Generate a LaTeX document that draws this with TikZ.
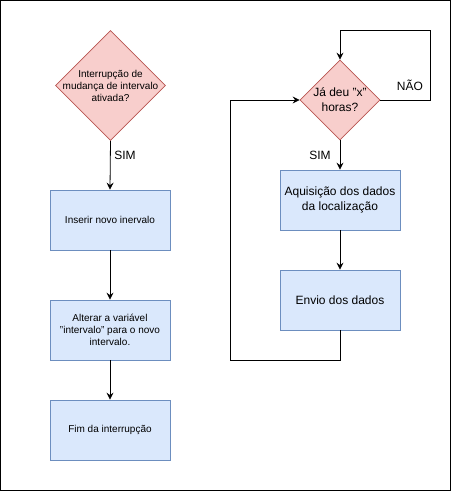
\documentclass[tikz,border=0pt]{standalone}
\usepackage{fontspec}
\setmainfont{Liberation Sans}
\usetikzlibrary{shapes.geometric,arrows.meta}
\definecolor{dfill}{HTML}{F8CECC}
\definecolor{ddraw}{HTML}{B85450}
\definecolor{bfill}{HTML}{DAE8FC}
\definecolor{bdraw}{HTML}{6C8EBF}
\tikzset{
  decis/.style={diamond,draw=ddraw,fill=dfill,inner sep=0pt,line width=0.8pt},
  procbox/.style={rectangle,draw=bdraw,fill=bfill,minimum width=120pt,minimum height=60pt,inner sep=0pt,line width=0.8pt,align=center},
  smalltxt/.style={font=\fontsize{10}{12}\selectfont,align=center},
  bigtxt/.style={font=\fontsize{12}{15}\selectfont,align=center},
  arr/.style={draw=black,line width=0.8pt,-{Stealth[length=7pt,width=7pt,inset=2.5pt]}},
  plainline/.style={draw=black,line width=0.8pt}
}
\begin{document}
\begin{tikzpicture}[x=1pt,y=-1pt]
\useasboundingbox (0,0) rectangle (451,491);
\draw[black,line width=1pt] (0.5,0.5) rectangle (450.5,490.5);
% left column
\node[decis,minimum width=110pt,minimum height=110pt] (d1) at (110.5,85.5) {};
\node[smalltxt] (d1t) at (110.5,85.5) {Interrupção de\\mudança de intervalo\\ativada?};
\node[procbox,smalltxt] (b1) at (110,220) {Inserir novo inervalo};
\node[procbox,smalltxt] (b2) at (110,330) {Alterar a variável\\"intervalo" para o novo\\intervalo.};
\node[procbox,smalltxt] (b3) at (110,430) {Fim da interrupção};
\node[bigtxt] (sim1) at (125,155) {SIM};
\draw[arr] (d1.south) -- (b1.north);
\draw[arr] (b1.south) -- (b2.north);
\draw[arr] (b2.south) -- (b3.north);
% right column
\node[decis,minimum width=80pt,minimum height=80pt] (d2) at (340,100) {};
\node[bigtxt] (d2t) at (340,100) {Já deu "x"\\horas?};
\node[procbox,bigtxt] (r1) at (340,200) {Aquisição dos dados\\da localização};
\node[procbox,bigtxt] (r2) at (340,300) {Envio dos dados};
\node[bigtxt] (sim2) at (320,155) {SIM};
\node[bigtxt] (nao) at (410,85) {NÃO};
\coordinate (lp) at (230,360);
\coordinate (np) at (430,30);
\draw[arr] (d2.south) -- (r1.north);
\draw[arr] (r1.south) -- (r2.north);
\draw[arr] (r2.south) |- (lp) |- (d2.west);
\draw[arr] (d2.east) -| (np) -| (d2.north);
\end{tikzpicture}
\end{document}
